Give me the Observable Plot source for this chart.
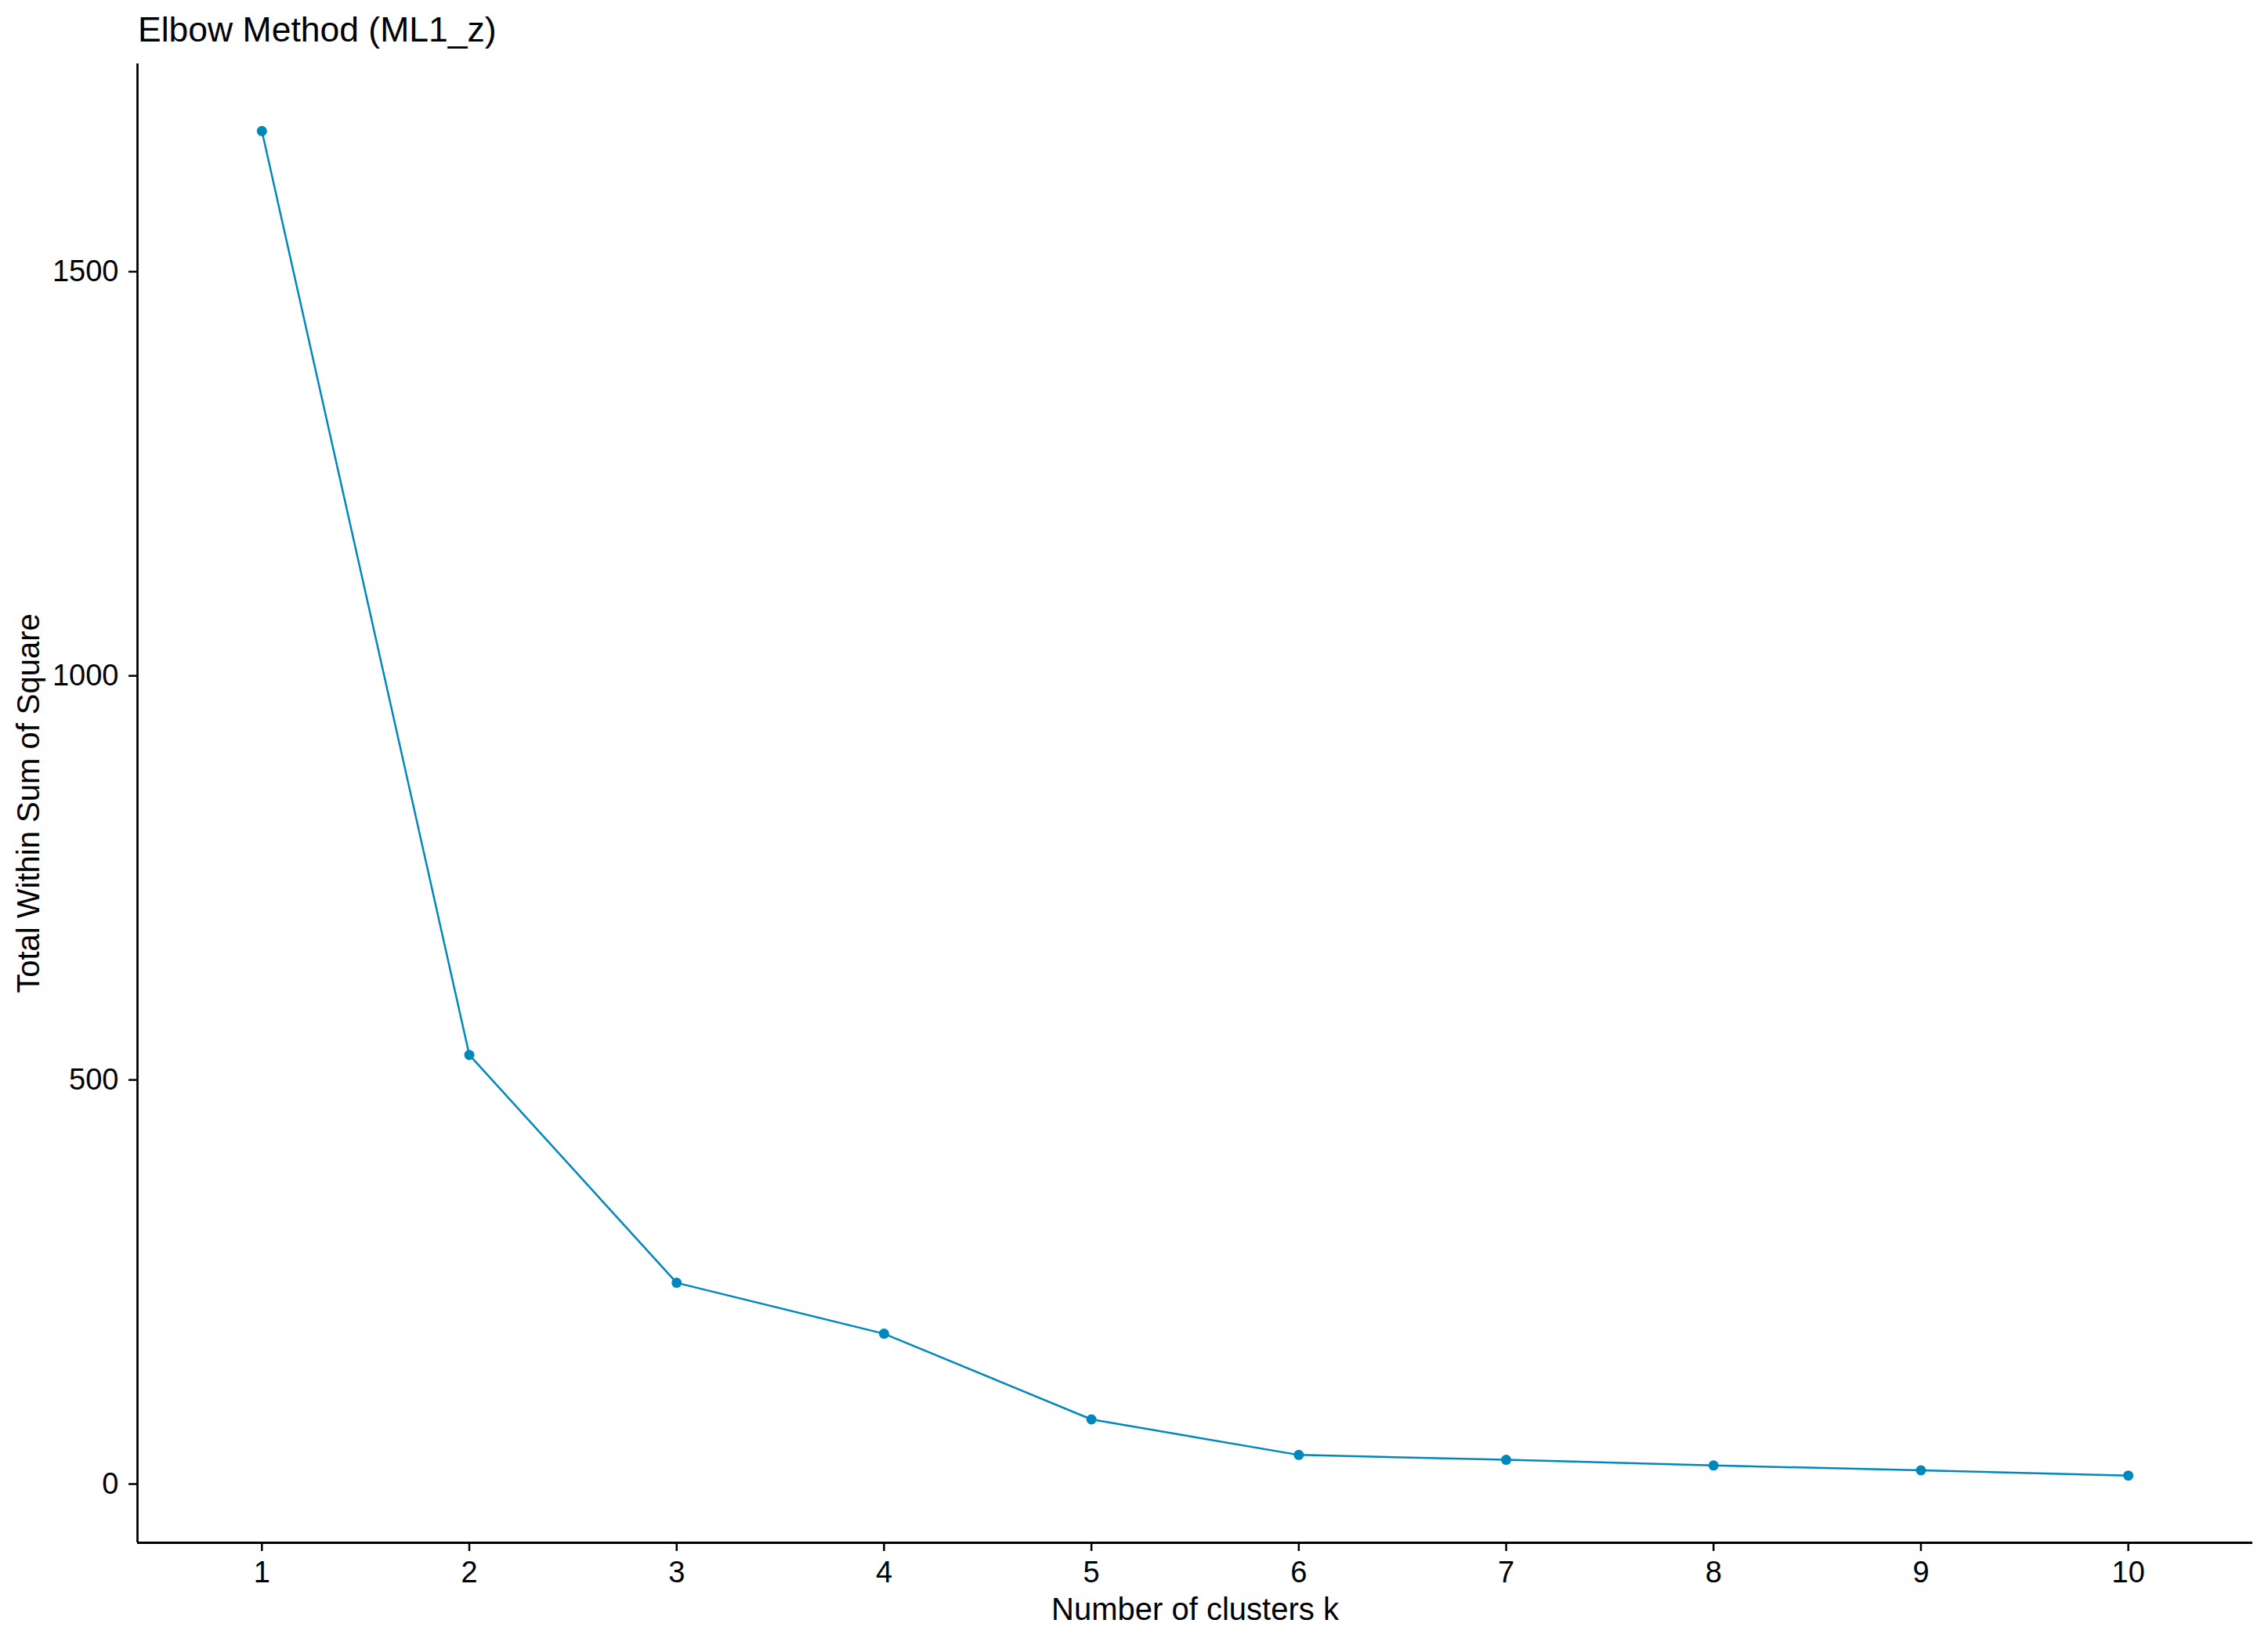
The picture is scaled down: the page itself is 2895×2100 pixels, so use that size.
<!DOCTYPE html>
<html>
<head>
<meta charset="utf-8">
<script src="https://cdn.jsdelivr.net/npm/d3@7"></script>
<script src="https://cdn.jsdelivr.net/npm/@observablehq/plot@0.6"></script>
<style>
  html, body { margin: 0; padding: 0; background: #fff; overflow: hidden; }
  #title { height: 70px; box-sizing: border-box; padding-top: 16px; padding-left: 176px;
           font-family: "Liberation Sans", Arial, sans-serif; font-size: 44.5px; line-height: 1; color: #000; }
  #chart svg { display: block; }
</style>
</head>
<body>
<div id="title">Elbow Method (ML1_z)</div>
<div id="chart"></div>
<script>
const titleText = "Elbow Method (ML1_z)";
const xLabel = "Number of clusters k";
const yLabel = "Total Within Sum of Square";
const ks = [1, 2, 3, 4, 5, 6, 7, 8, 9, 10];
const wss = [1674, 531, 249, 186, 80, 36, 30, 23, 17, 10.5];
const yTicks = [0, 500, 1000, 1500];

const data = ks.map((k, i) => ({k, wss: wss[i]}));
const lineColor = "#0087bc";

const yMin = d3.min(wss), yMax = d3.max(wss);
const pad = (yMax - yMin) * 0.05;
const yDomain = [yMin - pad, yMax + pad];
const xDomain = [d3.min(ks) - 0.6, d3.max(ks) + 0.6];

const chart = Plot.plot({
  width: 2895,
  height: 2030,
  marginTop: 11,
  marginBottom: 131,
  marginLeft: 175,
  marginRight: 20,
  style: {fontFamily: "'Liberation Sans', Arial, sans-serif", color: "#000", background: "#fff"},
  x: {domain: xDomain},
  y: {domain: yDomain},
  marks: [
    Plot.axisX({ticks: ks, tickFormat: d => String(d), tickSize: 11, tickPadding: 13, fontSize: 38, strokeWidth: 2.5, label: null, fill: "#000"}),
    Plot.axisY({ticks: yTicks, tickFormat: d => String(d), tickSize: 11, tickPadding: 13, fontSize: 38, strokeWidth: 2.5, label: null, fill: "#000"}),
    Plot.ruleX([xDomain[0]], {stroke: "#000", strokeWidth: 2.8}),
    Plot.ruleY([yDomain[0]], {stroke: "#000", strokeWidth: 2.8}),
    Plot.line(data, {x: "k", y: "wss", stroke: lineColor, strokeWidth: 2.5}),
    Plot.dot(data, {x: "k", y: "wss", fill: lineColor, r: 6.5, stroke: "none"}),
    Plot.text([xLabel], {frameAnchor: "bottom", textAnchor: "middle", lineAnchor: "middle", dy: 86, fontSize: 40, fill: "#000"}),
    Plot.text([yLabel], {frameAnchor: "left", textAnchor: "middle", lineAnchor: "middle", dx: -138, rotate: -90, fontSize: 40, fill: "#000"})
  ]
});
document.getElementById("chart").appendChild(chart);
</script>
</body>
</html>
